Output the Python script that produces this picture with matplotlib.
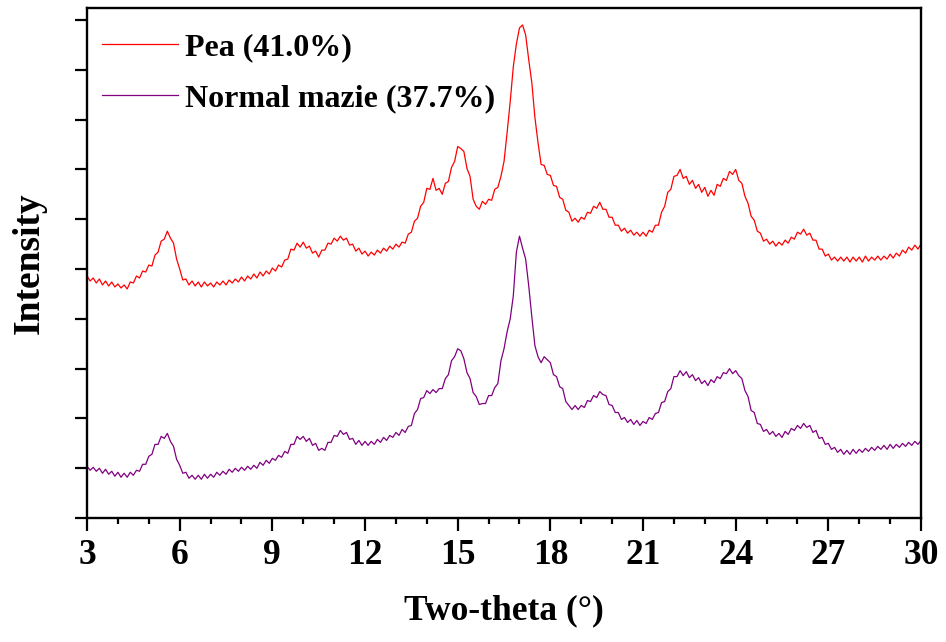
import numpy as np
import matplotlib
matplotlib.use("Agg")
import matplotlib.pyplot as plt
from matplotlib.ticker import MultipleLocator

# two-theta grid, 0.1 deg step
two_theta = np.linspace(3.0, 30.0, 271)

# Pea (41.0%), arbitrary intensity units
pea = [
    243, 238, 241, 236, 240, 234, 238, 233, 237, 232,   # 3.0 - 3.9
    235, 231, 234, 230, 237, 236, 243, 241, 248, 247,   # 4.0 - 4.9
    254, 253, 264, 267, 278, 280, 288, 281, 276, 260,   # 5.0 - 5.9
    250, 239, 240, 234, 238, 233, 237, 232, 237, 233,   # 6.0 - 6.9
    236, 232, 237, 234, 238, 234, 239, 236, 240, 237,   # 7.0 - 7.9
    242, 238, 243, 240, 245, 241, 247, 243, 248, 245,   # 8.0 - 8.9
    251, 248, 254, 252, 259, 260, 270, 269, 276, 272,   # 9.0 - 9.9
    277, 271, 273, 266, 268, 262, 269, 269, 276, 275,   # 10.0 - 10.9
    281, 278, 283, 279, 281, 274, 275, 268, 271, 265,   # 11.0 - 11.9
    268, 263, 267, 264, 269, 266, 271, 268, 273, 270,   # 12.0 - 12.9
    275, 272, 277, 276, 285, 287, 298, 301, 313, 317,   # 13.0 - 13.9
    331, 330, 341, 329, 331, 325, 336, 338, 352, 358,   # 14.0 - 14.9
    373, 371, 368, 351, 343, 320, 313, 310, 318, 315,   # 15.0 - 15.9
    320, 319, 330, 332, 343, 358, 387, 418, 453, 476,   # 16.0 - 16.9
    492, 495, 485, 460, 437, 402, 377, 355, 354, 345,   # 17.0 - 17.9
    344, 334, 333, 322, 320, 309, 307, 298, 301, 297,   # 18.0 - 18.9
    302, 300, 307, 306, 313, 311, 317, 310, 310, 302,   # 19.0 - 19.9
    302, 294, 294, 288, 291, 286, 289, 284, 287, 283,   # 20.0 - 20.9
    287, 283, 289, 287, 294, 294, 307, 313, 327, 330,   # 21.0 - 21.9
    343, 344, 350, 341, 343, 335, 339, 331, 335, 327,   # 22.0 - 22.9
    332, 323, 329, 324, 335, 333, 341, 339, 348, 345,   # 23.0 - 23.9
    350, 339, 336, 323, 316, 303, 299, 288, 286, 278,   # 24.0 - 24.9
    280, 275, 278, 273, 277, 274, 279, 276, 282, 280,   # 25.0 - 25.9
    287, 285, 290, 284, 286, 279, 279, 270, 270, 263,   # 26.0 - 26.9
    265, 259, 262, 258, 262, 258, 262, 257, 262, 258,   # 27.0 - 27.9
    262, 257, 263, 258, 262, 259, 263, 259, 263, 260,   # 28.0 - 28.9
    265, 261, 266, 263, 269, 266, 272, 269, 274, 270,   # 29.0 - 29.9
    275,                                                # 30.0
]

# Normal mazie (37.7%)
maize = [
    52, 48, 51, 47, 50, 45, 49, 44, 47, 42,             # 3.0 - 3.9
    46, 41, 45, 41, 46, 43, 48, 47, 54, 54,             # 4.0 - 4.9
    62, 64, 74, 74, 82, 80, 85, 77, 72, 59,             # 5.0 - 5.9
    53, 45, 46, 40, 43, 39, 43, 39, 44, 40,             # 6.0 - 6.9
    44, 41, 46, 43, 47, 44, 49, 46, 50, 47,             # 7.0 - 7.9
    51, 48, 52, 49, 53, 50, 56, 53, 58, 55,             # 8.0 - 8.9
    60, 58, 63, 61, 67, 65, 74, 74, 82, 79,             # 9.0 - 9.9
    82, 77, 80, 73, 75, 68, 70, 68, 76, 76,             # 10.0 - 10.9
    83, 82, 88, 84, 86, 79, 80, 74, 78, 73,             # 11.0 - 11.9
    77, 73, 77, 74, 79, 76, 81, 78, 83, 81,             # 12.0 - 12.9
    86, 83, 89, 86, 92, 93, 105, 109, 120, 121,         # 13.0 - 13.9
    128, 125, 129, 126, 130, 130, 140, 144, 158, 162,   # 14.0 - 14.9
    170, 168, 160, 146, 140, 126, 122, 114, 115, 115,   # 15.0 - 15.9
    123, 123, 131, 135, 158, 170, 187, 200, 223, 267,   # 16.0 - 16.9
    283, 271, 260, 233, 202, 173, 162, 156, 162, 159,   # 17.0 - 17.9
    156, 144, 142, 132, 130, 117, 113, 109, 113, 109,   # 18.0 - 18.9
    113, 111, 118, 117, 123, 121, 127, 124, 123, 114,   # 19.0 - 19.9
    113, 106, 106, 99, 101, 96, 99, 94, 98, 93,         # 20.0 - 20.9
    97, 95, 101, 99, 105, 106, 116, 117, 127, 130,      # 21.0 - 21.9
    142, 142, 148, 143, 147, 141, 144, 138, 141, 135,   # 22.0 - 22.9
    138, 133, 139, 136, 142, 140, 146, 145, 150, 145,   # 23.0 - 23.9
    148, 143, 140, 128, 122, 108, 106, 95, 94, 87,      # 24.0 - 24.9
    89, 84, 87, 82, 85, 81, 87, 84, 90, 88,             # 25.0 - 25.9
    93, 90, 95, 91, 93, 86, 88, 80, 81, 74,             # 26.0 - 26.9
    75, 69, 71, 66, 69, 64, 68, 64, 69, 65,             # 27.0 - 27.9
    69, 66, 70, 67, 71, 68, 72, 69, 73, 69,             # 28.0 - 28.9
    74, 70, 74, 71, 75, 72, 76, 73, 77, 74,             # 29.0 - 29.9
    78,                                                 # 30.0
]

labels = ["Pea (41.0%)", "Normal mazie (37.7%)"]
x_ticks = [3, 6, 9, 12, 15, 18, 21, 24, 27, 30]

plt.rcParams['font.family'] = ['Liberation Serif', 'DejaVu Serif']
plt.rcParams['font.weight'] = 'bold'

fig = plt.figure(figsize=(9.46, 6.42), dpi=100)
ax = fig.add_axes([0.092, 0.193, 0.8816, 0.7945])

ax.plot(two_theta, pea, color='#ff0000', lw=0.9, label=labels[0])
ax.plot(two_theta, maize, color='#800080', lw=0.9, label=labels[1])

ax.set_xlim(3, 30)
ax.set_ylim(0, 512)
ax.set_xticks(x_ticks)
ax.xaxis.set_minor_locator(MultipleLocator(1))
ax.set_yticks(np.arange(0, 501, 50))
ax.set_yticklabels([])

ax.tick_params(axis='both', which='major', direction='out', length=9, width=1.6,
               labelsize=25.5, pad=6)
ax.tick_params(axis='x', which='minor', direction='out', length=4.5, width=1.6)
for sp in ax.spines.values():
    sp.set_linewidth(1.7)

ax.set_xlabel("Two-theta (°)", fontsize=25.5, fontweight='bold', labelpad=16)
ax.set_ylabel("Intensity", fontsize=27, fontweight='bold', labelpad=14)

leg = ax.legend(loc='upper left', bbox_to_anchor=(0.0, 0.98), frameon=False,
                fontsize=23, handlelength=2.4, handletextpad=0.22,
                labelspacing=0.68, borderaxespad=0.06)

fig.savefig("out.png", dpi=100)
